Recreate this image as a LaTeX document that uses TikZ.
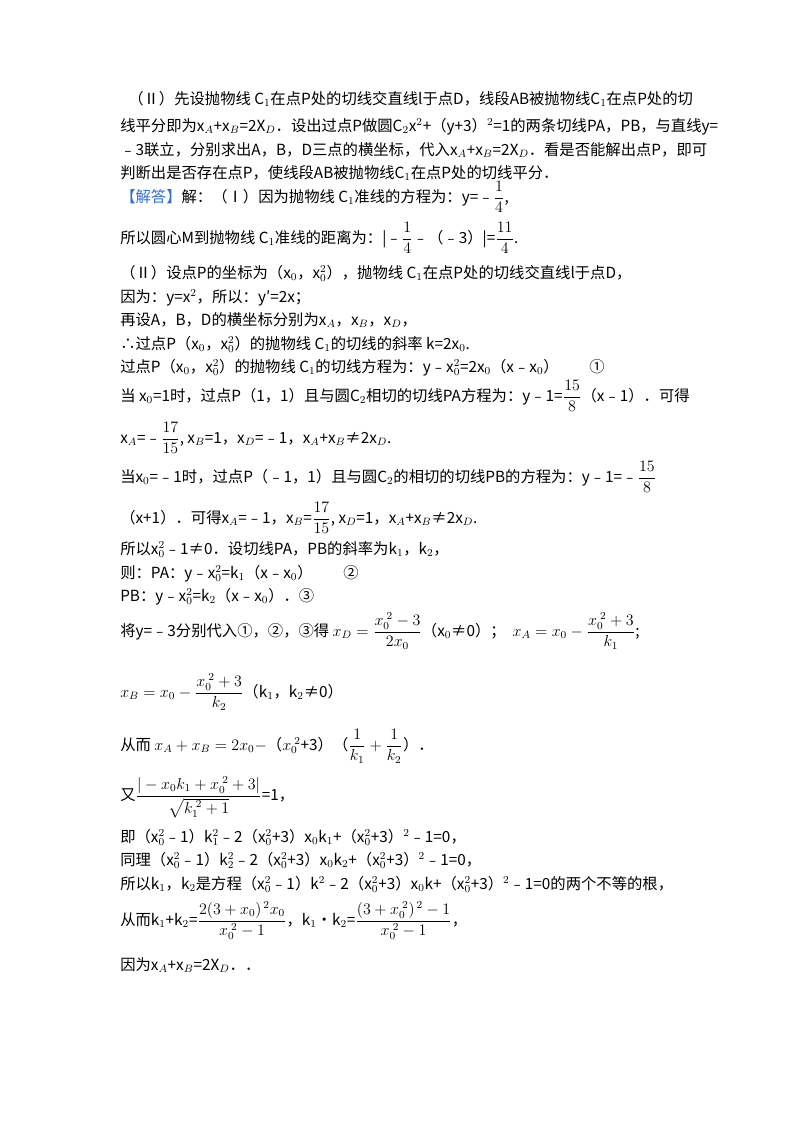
\documentclass[tikz,border=0pt]{standalone}
\usepackage{amsmath}
\usepackage{fontspec}
\setmainfont{Noto Sans CJK SC}
\begin{document}
\begin{tikzpicture}[x=0.75pt,y=-0.75pt,
  ln/.style={anchor=base west,inner sep=0pt,font=\fontsize{11.5pt}{13pt}\selectfont}]
\useasboundingbox (0,0) rectangle (800,1132);
\fill[white] (0,0) rectangle (800,1132);
\node[ln] (l1) at (128,104) {（Ⅱ）先设抛物线 C$_1$在点P处的切线交直线l于点D，线段AB被抛物线C$_1$在点P处的切};
\node[ln] (l2) at (120,131) {线平分即为x$_A$+x$_B$=2X$_D$．设出过点P做圆C$_2$x$^2$+（y+3）$^2$=1的两条切线PA，PB，与直线y=};
\node[ln] (l3) at (120,155) {﹣3联立，分别求出A，B，D三点的横坐标，代入x$_A$+x$_B$=2X$_D$．看是否能解出点P，即可};
\node[ln] (l4) at (120,178) {判断出是否存在点P，使线段AB被抛物线C$_1$在点P处的切线平分．};
\node[ln] (l5) at (120,202) {\textcolor[HTML]{2E6FD8}{【解答】}解：（Ⅰ）因为抛物线 C$_1$准线的方程为：y=﹣$\dfrac{1}{4}$,};
\node[ln] (l6) at (120,243) {所以圆心M到抛物线 C$_1$准线的距离为：|﹣$\dfrac{1}{4}$﹣（﹣3）|=$\dfrac{11}{4}$.};
\node[ln] (l7) at (120,278) {（Ⅱ）设点P的坐标为（x$_0$，x$_0^2$），抛物线 C$_1$在点P处的切线交直线l于点D，};
\node[ln] (l8) at (120,302) {因为：y=x$^2$，所以：y′=2x；};
\node[ln] (l9) at (120,325) {再设A，B，D的横坐标分别为x$_A$，x$_B$，x$_D$，};
\node[ln] (l10) at (120,349) {∴过点P（x$_0$，x$_0^2$）的抛物线 C$_1$的切线的斜率 k=2x$_0$.};
\node[ln] (l11) at (120,372) {过点P（x$_0$，x$_0^2$）的抛物线 C$_1$的切线方程为：y﹣x$_0^2$=2x$_0$（x﹣x$_0$）\qquad ①};
\node[ln] (l12) at (120,401) {当 x$_0$=1时，过点P（1，1）且与圆C$_2$相切的切线PA方程为：y﹣1=$\dfrac{15}{8}$（x﹣1）．可得};
\node[ln] (l13) at (120,443) {x$_A$=﹣$\dfrac{17}{15}$, x$_B$=1，x$_D$=﹣1，x$_A$+x$_B$≠2x$_D$.};
\node[ln] (l14) at (120,482) {当x$_0$=﹣1时，过点P（﹣1，1）且与圆C$_2$的相切的切线PB的方程为：y﹣1=﹣$\dfrac{15}{8}$};
\node[ln] (l15) at (120,523) {（x+1）．可得x$_A$=﹣1，x$_B$=$\dfrac{17}{15}$, x$_D$=1，x$_A$+x$_B$≠2x$_D$.};
\node[ln] (l16) at (120,554) {所以x$_0^2$﹣1≠0．设切线PA，PB的斜率为k$_1$，k$_2$，};
\node[ln] (l17) at (120,578) {则：PA：y﹣x$_0^2$=k$_1$（x﹣x$_0$）\qquad ②};
\node[ln] (l18) at (120,601) {PB：y﹣x$_0^2$=k$_2$（x﹣x$_0$）．③};
\node[ln] (l19) at (120,636) {将y=﹣3分别代入①，②，③得 $x_D=\dfrac{x_0^{\;2}-3}{2x_0}$（x$_0$≠0）；\ \ $x_A=x_0-\dfrac{x_0^{\;2}+3}{k_1}$;};
\node[ln] (l20) at (120,697) {$x_B=x_0-\dfrac{x_0^{\;2}+3}{k_2}$（k$_1$，k$_2$≠0）};
\node[ln] (l21) at (120,750) {从而 $x_A+x_B=2x_0-$（$x_0^{\;2}$+3）（$\dfrac{1}{k_1}+\dfrac{1}{k_2}$）．};
\node[ln] (l22) at (120,800) {又$\dfrac{|-x_0k_1+x_0^{\;2}+3|}{\sqrt{k_1^{\;2}+1}}$=1，};
\node[ln] (l23) at (120,842) {即（x$_0^2$﹣1）k$_1^2$﹣2（x$_0^2$+3）x$_0$k$_1$+（x$_0^2$+3）$^2$﹣1=0，};
\node[ln] (l24) at (120,865) {同理（x$_0^2$﹣1）k$_2^2$﹣2（x$_0^2$+3）x$_0$k$_2$+（x$_0^2$+3）$^2$﹣1=0，};
\node[ln] (l25) at (120,889) {所以k$_1$，k$_2$是方程（x$_0^2$﹣1）k$^2$﹣2（x$_0^2$+3）x$_0$k+（x$_0^2$+3）$^2$﹣1=0的两个不等的根，};
\node[ln] (l26) at (120,925) {从而k$_1$+k$_2$=$\dfrac{2(3+x_0)^{\,2}x_0}{x_0^{\;2}-1}$，k$_1$•k$_2$=$\dfrac{(3+x_0^{\;2})^{\,2}-1}{x_0^{\;2}-1}$，};
\node[ln] (l27) at (120,970) {因为x$_A$+x$_B$=2X$_D$．．};
\end{tikzpicture}
\end{document}
